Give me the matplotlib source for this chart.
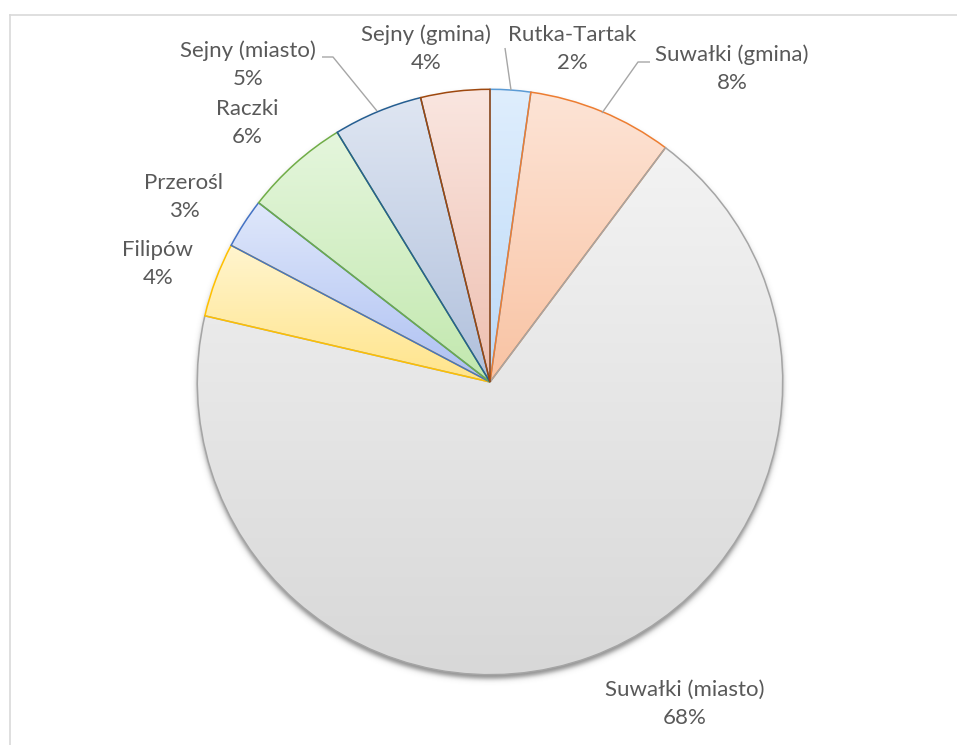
import matplotlib
matplotlib.use('Agg')
import matplotlib.pyplot as plt
import numpy as np

# ---- data ----
categories = ['Rutka-Tartak', 'Suwałki (gmina)', 'Suwałki (miasto)', 'Filipów',
              'Przerośl', 'Raczki', 'Sejny (miasto)', 'Sejny (gmina)']
values = [2.23, 8.0, 68.4, 4.1, 2.76, 5.77, 4.93, 3.81]

# ---- styles ----
top_colors = ['#dfeefd', '#fde4d6', '#f3f3f3', '#fff5cf', '#e0e8fb', '#e5f6dd', '#dfe6f2', '#fae6e0']
bot_colors = ['#bcd9f7', '#f9c3a3', '#d8d8d8', '#ffe48a', '#adc0f2', '#c2e8ae', '#b0c0dc', '#eebfb0']
edge_colors = ['#5b9bd5', '#ed7d31', '#a5a5a5', '#ffc000', '#4472c4', '#70ad47', '#255e91', '#9e480e']

# label layout (pixel centres of the name line)
label_pos = [(572, 35), (732, 55), (685, 690), (158, 250), (184, 183),
             (247, 109), (248, 51), (426, 35)]
leaders = {0: [(505, 48), (511, 90)],
           1: [(650, 62), (638, 62), (602, 113)],
           6: [(322, 57), (333, 57), (377, 111)]}

W, H = 957, 745
CX, CY, R = 490, 382, 292.7
TXT = '#595959'
FONT = 'Lato'
FS = 16

fig = plt.figure(figsize=(W / 100, H / 100), dpi=100)
ax = fig.add_axes([0, 0, 1, 1])

def py(y):
    return H - y

# soft drop shadow under the pie
xs = np.arange(W) + 0.5
ys = np.arange(H) + 0.5
X, Y = np.meshgrid(xs, ys)
d = np.sqrt((X - CX) ** 2 + (Y - (CY + 4)) ** 2)
alpha = 0.6 * 0.5 * (1 - np.tanh((d - R) / 3.0))
shadow = np.zeros((H, W, 4))
shadow[..., :3] = 0.25
shadow[..., 3] = alpha
ax.imshow(shadow, extent=[0, W, 0, H], origin='upper', zorder=0, interpolation='bilinear')

wedges, _ = ax.pie(values, startangle=90, counterclock=False, center=(CX, py(CY)),
                   radius=R, wedgeprops=dict(linewidth=1.1))

for i, w in enumerate(wedges):
    w.set_facecolor('none')
    w.set_edgecolor(edge_colors[i])
    w.set_zorder(3 + i)
    ext = w.get_path().get_extents()
    c0 = np.array(matplotlib.colors.to_rgb(top_colors[i]))
    c1 = np.array(matplotlib.colors.to_rgb(bot_colors[i]))
    t = np.linspace(0, 1, 256)[:, None]
    grad = (c0 * (1 - t) + c1 * t)[:, None, :]
    im = ax.imshow(grad, extent=[ext.x0, ext.x1, ext.y0, ext.y1], origin='upper',
                   aspect='auto', interpolation='bilinear', zorder=1)
    im.set_clip_path(w)

# labels
total = sum(values)
for i, (name, v) in enumerate(zip(categories, values)):
    x, y = label_pos[i]
    ax.text(x, py(y), name, ha='center', va='center', fontsize=FS,
            color=TXT, family=FONT, zorder=20)
    ax.text(x, py(y + 28), f'{round(v / total * 100):.0f}%', ha='center', va='center',
            fontsize=FS, color=TXT, family=FONT, zorder=20)

for k, pts in leaders.items():
    ax.plot([p[0] for p in pts], [py(p[1]) for p in pts], color='#a6a6a6', lw=1.0, zorder=15,
            solid_capstyle='butt')

# chart frame
ax.plot([10, 10], [py(745), py(15)], color='#d9d9d9', lw=1.2, zorder=30)
ax.plot([10, W], [py(15), py(15)], color='#d9d9d9', lw=1.2, zorder=30)

ax.set_xlim(0, W)
ax.set_ylim(0, H)
ax.set_aspect('auto')
ax.axis('off')
fig.savefig('out.png', dpi=100, facecolor='white')
